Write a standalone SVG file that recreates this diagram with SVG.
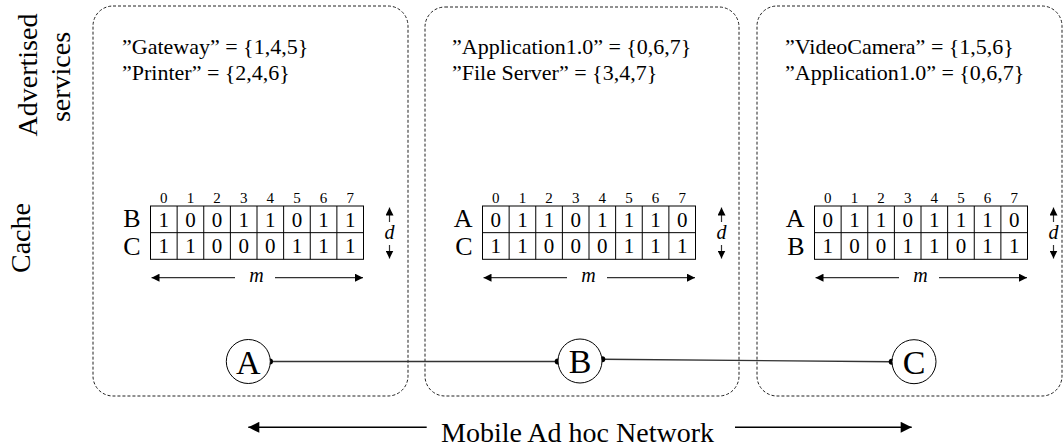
<svg xmlns="http://www.w3.org/2000/svg" width="1063" height="446" viewBox="0 0 1063 446">
  <style>
    .area { fill: none; stroke: #222; stroke-width: 1; stroke-dasharray: 3 2; }
    .grid { fill: none; stroke: #000; stroke-width: 1; }
    .dimline { stroke: #333; stroke-width: 1.2; fill: none; }
    .node circle { fill: #fff; stroke: #000; stroke-width: 1; }
    .link { stroke: #333; stroke-width: 1.4; fill: none; }
    .dot { fill: #000; }
    .net { stroke: #000; stroke-width: 1.4; fill: none; }
  </style>
  <defs>
    <marker id="tip" viewBox="0 0 10 10" refX="10" refY="5" markerWidth="8" markerHeight="8" orient="auto" markerUnits="userSpaceOnUse">
      <path d="M0,0 L10,5 L0,10 z" fill="#000"/>
    </marker>
    <marker id="bigtip" viewBox="0 0 10 10" refX="10" refY="5" markerWidth="13" markerHeight="11" orient="auto" markerUnits="userSpaceOnUse">
      <path d="M0,0 L10,5 L0,10 z" fill="#000"/>
    </marker>
    <!-- bit table frame: 8 columns x 2 rows, plus d and m dimension arrows -->
    <g id="table">
      <rect class="grid" x="0" y="0" width="213" height="53.3"/>
      <path class="grid" d="M0,26.67 H213 M26.625,0 V53.3 M53.25,0 V53.3 M79.875,0 V53.3 M106.5,0 V53.3 M133.125,0 V53.3 M159.75,0 V53.3 M186.375,0 V53.3"/>
      <g font-family="Liberation Serif, serif" font-size="15" text-anchor="middle">
        <text x="13.3" y="-3">0</text>
        <text x="39.9" y="-3">1</text>
        <text x="66.6" y="-3">2</text>
        <text x="93.2" y="-3">3</text>
        <text x="119.8" y="-3">4</text>
        <text x="146.4" y="-3">5</text>
        <text x="173.1" y="-3">6</text>
        <text x="199.7" y="-3">7</text>
      </g>
      <line class="dimline" x1="239" y1="16" x2="239" y2="1.5" marker-end="url(#tip)"/>
      <line class="dimline" x1="239" y1="39" x2="239" y2="52.5" marker-end="url(#tip)"/>
      <text x="239" y="33" font-family="Liberation Serif, serif" font-size="20" font-style="italic" text-anchor="middle">d</text>
      <line class="dimline" x1="84.5" y1="71.7" x2="1" y2="71.7" marker-end="url(#tip)"/>
      <line class="dimline" x1="124.5" y1="71.7" x2="212.5" y2="71.7" marker-end="url(#tip)"/>
      <text x="106" y="76" font-family="Liberation Serif, serif" font-size="20" font-style="italic" text-anchor="middle">m</text>
    </g>
  </defs>

  <!-- row headings -->
  <g font-family="Liberation Serif, serif" font-size="28" text-anchor="middle">
    <text transform="translate(37,75) rotate(-90)">Advertised</text>
    <text transform="translate(70,77) rotate(-90)">services</text>
    <text transform="translate(30,238) rotate(-90)">Cache</text>
  </g>

  <!-- node A area -->
  <g id="area-A">
    <rect class="area" x="93" y="6" width="315" height="390" rx="20"/>
    <g font-family="Liberation Serif, serif" font-size="22">
      <text x="122" y="53.5">”Gateway” = {1,4,5}</text>
      <text x="122" y="79.5">”Printer” = {2,4,6}</text>
    </g>
    <g transform="translate(150.5,206)" font-family="Liberation Serif, serif">
      <use href="#table"/>
      <g font-size="26" text-anchor="end">
        <text x="-10" y="21.3">B</text>
        <text x="-10" y="48.5">C</text>
      </g>
      <g font-size="21" text-anchor="middle">
        <text x="13.3" y="20.7">1</text><text x="39.9" y="20.7">0</text><text x="66.6" y="20.7">0</text><text x="93.2" y="20.7">1</text>
        <text x="119.8" y="20.7">1</text><text x="146.4" y="20.7">0</text><text x="173.1" y="20.7">1</text><text x="199.7" y="20.7">1</text>
        <text x="13.3" y="47.3">1</text><text x="39.9" y="47.3">1</text><text x="66.6" y="47.3">0</text><text x="93.2" y="47.3">0</text>
        <text x="119.8" y="47.3">0</text><text x="146.4" y="47.3">1</text><text x="173.1" y="47.3">1</text><text x="199.7" y="47.3">1</text>
      </g>
    </g>
  </g>

  <!-- node B area -->
  <g id="area-B">
    <rect class="area" x="425" y="7" width="314" height="389" rx="20"/>
    <g font-family="Liberation Serif, serif" font-size="22">
      <text x="452" y="53.5">”Application1.0” = {0,6,7}</text>
      <text x="452" y="79.5">”File Server” = {3,4,7}</text>
    </g>
    <g transform="translate(482.5,206)" font-family="Liberation Serif, serif">
      <use href="#table"/>
      <g font-size="26" text-anchor="end">
        <text x="-10" y="21.3">A</text>
        <text x="-10" y="48.5">C</text>
      </g>
      <g font-size="21" text-anchor="middle">
        <text x="13.3" y="20.7">0</text><text x="39.9" y="20.7">1</text><text x="66.6" y="20.7">1</text><text x="93.2" y="20.7">0</text>
        <text x="119.8" y="20.7">1</text><text x="146.4" y="20.7">1</text><text x="173.1" y="20.7">1</text><text x="199.7" y="20.7">0</text>
        <text x="13.3" y="47.3">1</text><text x="39.9" y="47.3">1</text><text x="66.6" y="47.3">0</text><text x="93.2" y="47.3">0</text>
        <text x="119.8" y="47.3">0</text><text x="146.4" y="47.3">1</text><text x="173.1" y="47.3">1</text><text x="199.7" y="47.3">1</text>
      </g>
    </g>
  </g>

  <!-- node C area -->
  <g id="area-C">
    <rect class="area" x="757" y="6" width="305" height="390" rx="20"/>
    <g font-family="Liberation Serif, serif" font-size="22">
      <text x="785" y="53.5">”VideoCamera” = {1,5,6}</text>
      <text x="785" y="79.5">”Application1.0” = {0,6,7}</text>
    </g>
    <g transform="translate(814.5,206)" font-family="Liberation Serif, serif">
      <use href="#table"/>
      <g font-size="26" text-anchor="end">
        <text x="-10" y="21.3">A</text>
        <text x="-10" y="48.5">B</text>
      </g>
      <g font-size="21" text-anchor="middle">
        <text x="13.3" y="20.7">0</text><text x="39.9" y="20.7">1</text><text x="66.6" y="20.7">1</text><text x="93.2" y="20.7">0</text>
        <text x="119.8" y="20.7">1</text><text x="146.4" y="20.7">1</text><text x="173.1" y="20.7">1</text><text x="199.7" y="20.7">0</text>
        <text x="13.3" y="47.3">1</text><text x="39.9" y="47.3">0</text><text x="66.6" y="47.3">0</text><text x="93.2" y="47.3">1</text>
        <text x="119.8" y="47.3">1</text><text x="146.4" y="47.3">0</text><text x="173.1" y="47.3">1</text><text x="199.7" y="47.3">1</text>
      </g>
    </g>
  </g>

  <!-- radio links between nodes -->
  <g id="links">
    <line class="link" x1="270" y1="361.5" x2="557.7" y2="361.5"/>
    <line class="link" x1="602.3" y1="359.3" x2="891.7" y2="361.7"/>
    <circle class="dot" cx="270" cy="361.5" r="3"/>
    <circle class="dot" cx="557.7" cy="361.5" r="3"/>
    <circle class="dot" cx="602.3" cy="359.3" r="3"/>
    <circle class="dot" cx="891.7" cy="361.7" r="3"/>
  </g>

  <!-- mobile nodes -->
  <g font-family="Liberation Serif, serif" font-size="34" text-anchor="middle">
    <g id="node-A" class="node">
      <circle cx="248.3" cy="361.5" r="22"/>
      <text x="248.3" y="373.5">A</text>
    </g>
    <g id="node-B" class="node">
      <circle cx="580" cy="361" r="22"/>
      <text x="580" y="373">B</text>
    </g>
    <g id="node-C" class="node">
      <circle cx="914" cy="361.7" r="22"/>
      <text x="914" y="373.7">C</text>
    </g>
  </g>

  <!-- network extent -->
  <g id="network">
    <line class="net" x1="426.7" y1="427.3" x2="248.3" y2="427.3" marker-end="url(#bigtip)"/>
    <line class="net" x1="735" y1="427.3" x2="911.7" y2="427.3" marker-end="url(#bigtip)"/>
    <text x="577.5" y="441.5" font-family="Liberation Serif, serif" font-size="28" text-anchor="middle">Mobile Ad hoc Network</text>
  </g>
</svg>
